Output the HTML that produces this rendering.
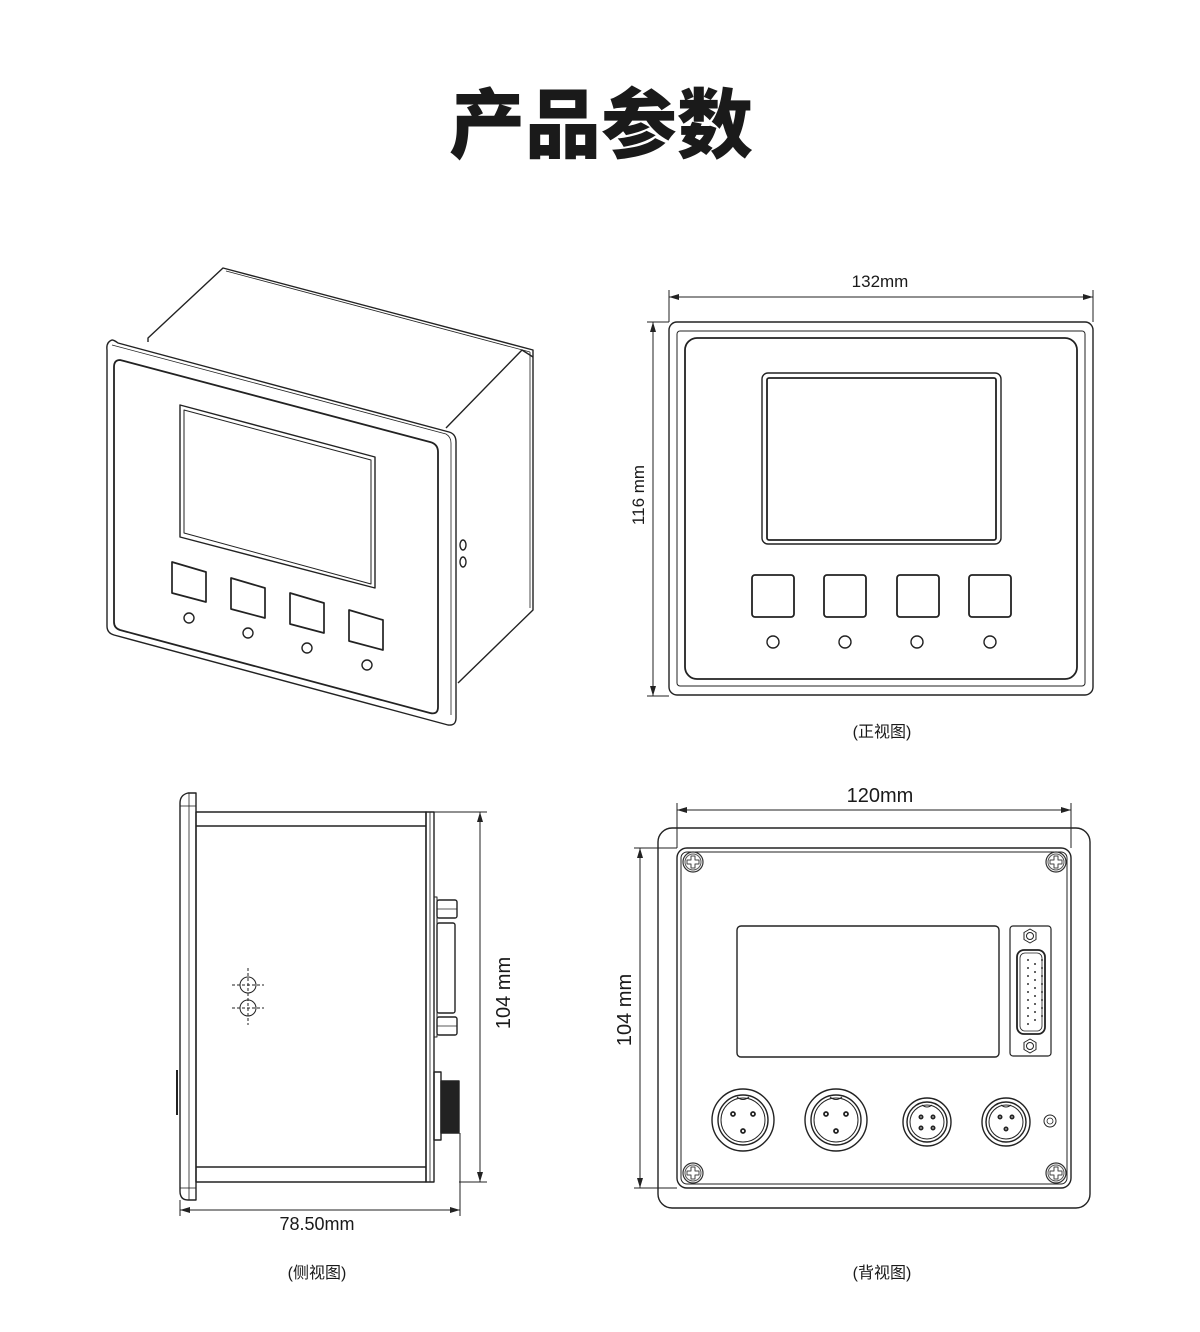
<!DOCTYPE html>
<html><head><meta charset="utf-8"><style>
html,body{margin:0;padding:0;background:#fff}
svg{display:block}
text{font-family:"Liberation Sans","Noto Sans CJK SC",sans-serif;fill:#1a1a1a}
</style></head><body>
<svg width="1200" height="1332" viewBox="0 0 1200 1332" xmlns="http://www.w3.org/2000/svg">
<defs>
<marker id="ar" viewBox="0 0 10 6" refX="10" refY="3" markerWidth="10" markerHeight="6" orient="auto-start-reverse" markerUnits="userSpaceOnUse"><path d="M0,0 L10,3 L0,6 z" fill="#222"/></marker>
<g id="screw"><circle r="10" fill="#fff" stroke="#333" stroke-width="1.2"/><circle r="8" fill="none" stroke="#555" stroke-width="1"/><path d="M-2,-6 h4 v4 h4 v4 h-4 v4 h-4 v-4 h-4 v-4 h4z" fill="none" stroke="#444" stroke-width="1"/></g>
</defs>
<text x="601" y="152" text-anchor="middle" style="font-family:'Noto Sans CJK SC',sans-serif;font-weight:900;font-size:76px">产品参数</text>

<g fill="none" stroke="#222" stroke-width="1.4" stroke-linejoin="round">
<!-- ISO view -->
<path d="M148,342 L148,338 L223,268 L533,350 L533,610 L458,683" fill="#fff"/>
<path d="M226,271 L530,352 M530,352 L530,608" stroke-width="0.8"/>
<path d="M446,428 L522,350 L533,357"/>
<path d="M112,340 Q106,342 107,350 L107,626 Q107,633 114,635 L448,725 Q456,726 456,718 L456,442 Q456,434 449,432 L118,343 Q114,340 112,340 Z" fill="#fff"/>
<path d="M112,345 L446,434 Q451,437 451,443 L451,715" stroke-width="0.8"/>
<path d="M120,360 Q114,360 114,367 L114,622 Q114,628 120,630 L430,713 Q438,715 438,707 L438,452 Q438,444 430,442 L124,361 Z" stroke-width="1.8"/>
<path d="M180,405 L375,457 L375,588 L180,537 Z"/>
<path d="M184,410 L371,460 L371,584 L184,533 Z" stroke-width="1"/>
<g stroke-width="1.7">
<path d="M172,562 L206,572 L206,602 L172,593 Z"/>
<path d="M231,578 L265,588 L265,618 L231,609 Z"/>
<path d="M290,593 L324,603 L324,633 L290,624 Z"/>
<path d="M349,610 L383,620 L383,650 L349,641 Z"/>
</g>
<circle cx="189" cy="618" r="5"/><circle cx="248" cy="633" r="5"/><circle cx="307" cy="648" r="5"/><circle cx="367" cy="665" r="5"/>
<ellipse cx="463" cy="545" rx="3" ry="5"/><ellipse cx="463" cy="562" rx="3" ry="5"/>

<!-- FRONT view -->
<rect x="669" y="322" width="424" height="373" rx="8"/>
<rect x="677" y="331" width="408" height="355" rx="3" stroke-width="1"/>
<rect x="685" y="338" width="392" height="341" rx="12" stroke-width="1.8"/>
<rect x="762" y="373" width="239" height="171" rx="6"/>
<rect x="767" y="378" width="229" height="162" rx="2" stroke-width="1.8"/>
<rect x="752" y="575" width="42" height="42" rx="3" stroke-width="1.8"/>
<rect x="824" y="575" width="42" height="42" rx="3" stroke-width="1.8"/>
<rect x="897" y="575" width="42" height="42" rx="3" stroke-width="1.8"/>
<rect x="969" y="575" width="42" height="42" rx="3" stroke-width="1.8"/>
<circle cx="773" cy="642" r="6"/><circle cx="845" cy="642" r="6"/><circle cx="917" cy="642" r="6"/><circle cx="990" cy="642" r="6"/>
<g stroke-width="1">
<line x1="669" y1="290" x2="669" y2="322"/><line x1="1093" y1="290" x2="1093" y2="322"/>
<line x1="669" y1="297" x2="1093" y2="297" marker-start="url(#ar)" marker-end="url(#ar)"/>
<line x1="647" y1="322" x2="669" y2="322"/><line x1="647" y1="696" x2="669" y2="696"/>
<line x1="653" y1="322" x2="653" y2="696" marker-start="url(#ar)" marker-end="url(#ar)"/>
</g>

<!-- SIDE view -->
<path d="M196,793 L188,793 Q180,795 180,803 L180,1191 Q180,1200 188,1200 L196,1200 Z"/>
<line x1="180" y1="806" x2="196" y2="806" stroke-width="0.8"/><line x1="180" y1="1188" x2="196" y2="1188" stroke-width="0.8"/>
<line x1="189" y1="793" x2="189" y2="1200" stroke-width="0.8"/>
<rect x="196" y="812" width="230" height="370"/>
<line x1="196" y1="826" x2="426" y2="826"/><line x1="196" y1="1167" x2="426" y2="1167"/>
<rect x="426" y="812" width="8" height="370"/><line x1="430" y1="812" x2="430" y2="1182" stroke-width="0.8"/>
<path d="M177,1070 L177,1115" stroke-width="2"/>
<rect x="434" y="897" width="3" height="140" stroke-width="1"/>
<rect x="437" y="900" width="20" height="18" rx="2"/><line x1="437" y1="909" x2="457" y2="909" stroke-width="0.8"/>
<rect x="437" y="923" width="18" height="90" rx="2"/>
<rect x="437" y="1017" width="20" height="18" rx="2"/><line x1="437" y1="1026" x2="457" y2="1026" stroke-width="0.8"/>
<rect x="434" y="1072" width="7" height="68"/>
<rect x="441" y="1081" width="18" height="52" fill="#222"/>
<g stroke-width="1">
<circle cx="248" cy="985" r="8"/><circle cx="248" cy="1008" r="8"/>
<path d="M248,968 V1025 M232,985 H264 M232,1008 H264" stroke-dasharray="3,2"/>
<line x1="434" y1="812" x2="487" y2="812"/><line x1="459" y1="1182" x2="487" y2="1182"/>
<line x1="480" y1="812" x2="480" y2="1182" marker-start="url(#ar)" marker-end="url(#ar)"/>
<line x1="180" y1="1200" x2="180" y2="1216"/><line x1="460" y1="1133" x2="460" y2="1216"/>
<line x1="180" y1="1210" x2="460" y2="1210" marker-start="url(#ar)" marker-end="url(#ar)"/>
</g>

<!-- BACK view -->
<rect x="658" y="828" width="432" height="380" rx="14"/>
<rect x="677" y="848" width="394" height="340" rx="10"/>
<rect x="681" y="852" width="386" height="332" rx="6" stroke-width="1"/>
<rect x="737" y="926" width="262" height="131" rx="4"/>
<rect x="1010" y="926" width="41" height="130" rx="3" stroke-width="1.2"/>
<rect x="1017" y="950" width="28" height="84" rx="7" stroke-width="1.8"/>
<rect x="1020" y="953" width="22" height="78" rx="5" stroke-width="0.8"/>
<g stroke-width="1"><path d="M1030,929 l6,3.5 v7 l-6,3.5 l-6,-3.5 v-7z"/><circle cx="1030" cy="936" r="3.5"/>
<path d="M1030,1039 l6,3.5 v7 l-6,3.5 l-6,-3.5 v-7z"/><circle cx="1030" cy="1046" r="3.5"/></g>
<g fill="#333" stroke="none">
<circle cx="1028" cy="960" r="1"/><circle cx="1028" cy="968" r="1"/><circle cx="1028" cy="976" r="1"/><circle cx="1028" cy="984" r="1"/><circle cx="1028" cy="992" r="1"/><circle cx="1028" cy="1000" r="1"/><circle cx="1028" cy="1008" r="1"/><circle cx="1028" cy="1016" r="1"/><circle cx="1028" cy="1024" r="1"/>
<circle cx="1035" cy="964" r="1"/><circle cx="1035" cy="972" r="1"/><circle cx="1035" cy="980" r="1"/><circle cx="1035" cy="988" r="1"/><circle cx="1035" cy="996" r="1"/><circle cx="1035" cy="1004" r="1"/><circle cx="1035" cy="1012" r="1"/><circle cx="1035" cy="1020" r="1"/>
<circle cx="1042" cy="960" r="1"/><circle cx="1042" cy="968" r="1"/><circle cx="1042" cy="976" r="1"/><circle cx="1042" cy="984" r="1"/><circle cx="1042" cy="992" r="1"/><circle cx="1042" cy="1000" r="1"/><circle cx="1042" cy="1008" r="1"/><circle cx="1042" cy="1016" r="1"/>
</g>
<g>
<circle cx="743" cy="1120" r="31"/><circle cx="743" cy="1120" r="25"/><circle cx="743" cy="1120" r="22" stroke-width="1"/>
<circle cx="836" cy="1120" r="31"/><circle cx="836" cy="1120" r="25"/><circle cx="836" cy="1120" r="22" stroke-width="1"/>
<circle cx="927" cy="1122" r="24"/><circle cx="927" cy="1122" r="20"/><circle cx="927" cy="1122" r="17" stroke-width="1"/>
<circle cx="1006" cy="1122" r="24"/><circle cx="1006" cy="1122" r="20"/><circle cx="1006" cy="1122" r="17" stroke-width="1"/>
<path d="M737,1097 q6,5 12,0 M830,1097 q6,5 12,0 M922,1105 q5,4 10,0 M1001,1105 q5,4 10,0" stroke-width="1"/>
<circle cx="1050" cy="1121" r="6" stroke-width="1"/><circle cx="1050" cy="1121" r="3" stroke-width="0.8"/>
</g>
<g fill="none" stroke="#222" stroke-width="1.8">
<circle cx="733" cy="1114" r="2"/><circle cx="753" cy="1114" r="2"/><circle cx="743" cy="1131" r="2"/>
<circle cx="826" cy="1114" r="2"/><circle cx="846" cy="1114" r="2"/><circle cx="836" cy="1131" r="2"/>
<circle cx="921" cy="1117" r="1.6"/><circle cx="933" cy="1117" r="1.6"/><circle cx="921" cy="1128" r="1.6"/><circle cx="933" cy="1128" r="1.6"/>
<circle cx="1000" cy="1117" r="1.6"/><circle cx="1012" cy="1117" r="1.6"/><circle cx="1006" cy="1129" r="1.6"/>
</g>
<use href="#screw" x="693" y="862"/><use href="#screw" x="1056" y="862"/>
<use href="#screw" x="693" y="1173"/><use href="#screw" x="1056" y="1173"/>
<g stroke-width="1">
<line x1="677" y1="803" x2="677" y2="848"/><line x1="1071" y1="803" x2="1071" y2="848"/>
<line x1="677" y1="810" x2="1071" y2="810" marker-start="url(#ar)" marker-end="url(#ar)"/>
<line x1="634" y1="848" x2="677" y2="848"/><line x1="634" y1="1188" x2="677" y2="1188"/>
<line x1="640" y1="848" x2="640" y2="1188" marker-start="url(#ar)" marker-end="url(#ar)"/>
</g>
</g>

<text x="880" y="287" text-anchor="middle" font-size="17">132mm</text>
<text transform="translate(644,495) rotate(-90)" text-anchor="middle" font-size="17">116 mm</text>
<text x="882" y="737" text-anchor="middle" font-size="16">(正视图)</text>
<text x="880" y="802" text-anchor="middle" font-size="20">120mm</text>
<text transform="translate(631,1010) rotate(-90)" text-anchor="middle" font-size="20">104 mm</text>
<text transform="translate(510,993) rotate(-90)" text-anchor="middle" font-size="20">104 mm</text>
<text x="317" y="1230" text-anchor="middle" font-size="18">78.50mm</text>
<text x="317" y="1278" text-anchor="middle" font-size="16">(侧视图)</text>
<text x="882" y="1278" text-anchor="middle" font-size="16">(背视图)</text>
</svg>
</body></html>
